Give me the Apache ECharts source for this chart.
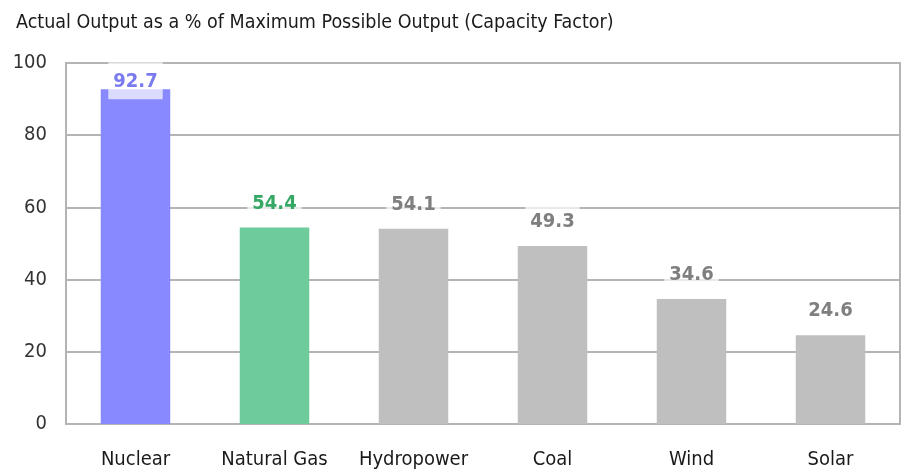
<!DOCTYPE html>
<html><head><meta charset="utf-8">
<script src="https://cdn.jsdelivr.net/npm/echarts@6/dist/echarts.min.js"></script>
<style>html,body{margin:0;padding:0;background:#fff}#c{width:902px;height:474px}</style>
</head><body><div id="c"></div>
<script>
const categories = ['Nuclear', 'Natural Gas', 'Hydropower', 'Coal', 'Wind', 'Solar'];
const capacityFactor = [92.7, 54.4, 54.1, 49.3, 34.6, 24.6];
const yTicks = [0, 20, 40, 60, 80, 100];

const barColors = {Nuclear: '#8888ff', 'Natural Gas': '#6dcb9c'};
const labelColors = {Nuclear: '#7b7bf0', 'Natural Gas': '#35a865'};
const FONT = '"DejaVu Sans Condensed", "Liberation Sans Narrow", sans-serif';

const chart = echarts.init(document.getElementById('c'), null, {renderer: 'canvas'});
chart.setOption({
  animation: false,
  title: {
    text: 'Actual Output as a % of Maximum Possible Output (Capacity Factor)',
    left: 11, top: 8,
    textStyle: {fontFamily: FONT, fontSize: 19.5, fontWeight: 'normal', color: '#1a1a1a'}
  },
  grid: {left: 66, right: 2, top: 63, bottom: 50, show: true, borderColor: '#b4b4b4', borderWidth: 2},
  xAxis: {
    type: 'category', data: categories,
    axisLine: {lineStyle: {color: '#b4b4b4', width: 2}},
    axisTick: {show: false},
    axisLabel: {fontFamily: FONT, fontSize: 20, color: '#1a1a1a', margin: 26, interval: 0}
  },
  yAxis: {
    type: 'value', min: yTicks[0], max: yTicks[yTicks.length - 1], interval: yTicks[1] - yTicks[0],
    axisLine: {show: true, lineStyle: {color: '#b4b4b4', width: 2}},
    axisTick: {show: false},
    splitLine: {lineStyle: {color: '#b4b4b4', width: 2}},
    axisLabel: {fontFamily: FONT, fontSize: 20, color: '#333', margin: 19}
  },
  series: [{
    type: 'bar', barWidth: '50%',
    data: categories.map((c, i) => ({
      value: capacityFactor[i],
      itemStyle: {color: barColors[c] || '#bfbfbf'},
      label: Object.assign({color: labelColors[c] || '#7f7f7f'}, c === 'Nuclear' ? {offset: [0, 16]} : {})
    })),
    label: {
      show: true, position: 'top', distance: 6,
      fontFamily: FONT, fontSize: 20, fontWeight: 'bold',
      backgroundColor: 'rgba(255,255,255,0.7)', padding: [9, 5, 8, 5],
      formatter: p => p.value.toFixed(1)
    }
  }]
});
</script></body></html>
